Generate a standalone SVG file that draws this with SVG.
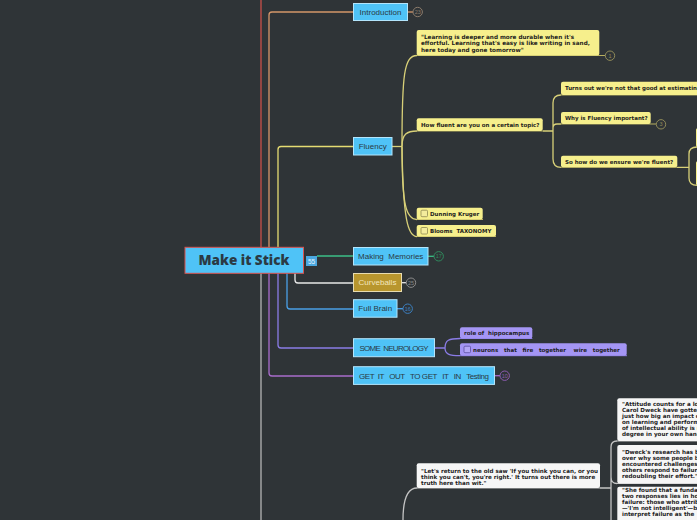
<svg xmlns="http://www.w3.org/2000/svg" width="697" height="520" viewBox="0 0 697 520">
<defs>
<style>
.bt{font-family:"Liberation Sans",Arial,sans-serif;font-size:8px;fill:#2b3a44;text-anchor:middle}
.blue{fill:#4fc3f7;stroke:#b3e5fc;stroke-width:1}
.yel{fill:#f6ef8c}
.pur{fill:#a495f4}
.wht{fill:#f6f6f6}
.nt{font-family:"DejaVu Sans",Verdana,sans-serif;font-weight:bold;font-size:5.5px;fill:#1d1d1d}
.mt{font-family:"DejaVu Sans",Verdana,sans-serif;font-weight:bold;font-size:5.6px;fill:#1d1d1d}
.qt{font-family:"DejaVu Sans",Verdana,sans-serif;font-weight:bold;font-size:5.7px;fill:#1d1d1d}
.cb{fill:#f3ec9c;stroke:#8d8850;stroke-width:0.8}
.cbp{fill:#b3a6f6;stroke:#5a4ea0;stroke-width:0.8}
.bd{fill:#2f3437;stroke-width:1}
.bn{font-family:"Liberation Sans",Arial,sans-serif;font-size:5.5px;text-anchor:middle}
.c{fill:none;stroke-width:1.3}
.ul{fill:none;stroke-width:1}
</style>
</defs>
<rect width="697" height="520" fill="#2f3437"/>
<g id="connectors">
<path class="c" stroke="#c9504a" d="M261,0 V247"/>
<path class="c" stroke="#b5b5b5" d="M261,273 V520"/>
<path class="c" stroke="#d4966a" d="M269,247 V15 Q269,12 272,12 H353"/>
<path class="c" stroke="#e5dc72" d="M278,247 V149.5 Q278,146.5 281,146.5 H353"/>
<path class="c" stroke="#3cbf88" d="M317,256 H353"/>
<path class="c" stroke="#e8e8e8" d="M295,273 V280 Q295,283 298,283 H353"/>
<path class="c" stroke="#4a9fe6" d="M287,273 V306 Q287,309 290,309 H353"/>
<path class="c" stroke="#8a7ce6" d="M278,273 V345 Q278,348 281,348 H353"/>
<path class="c" stroke="#a96ccc" d="M269,273 V373 Q269,376 272,376 H353"/>
<g stroke="#d8d078">
<path class="c" d="M392,146.5 H402"/>
<path class="c" d="M402,146.5 C402,75 404,55.5 417,55.5"/>
<path class="c" d="M402,146.5 C402,134 407,131 417,131"/>
<path class="c" d="M402,146.5 C402,205 406,219.5 417,219.5"/>
<path class="c" d="M402,146.5 C403,220 408,236.5 417,236.5"/>
<path class="c" d="M543,131 H553 M561,95 Q553,95 553,103 V159 Q553,167.3 561,167.3 M553,131 V128 Q553,124 557,124 H561"/>
<path class="c" d="M677,167.3 H689 M697,147 Q689,147 689,154 V178 Q689,185.3 697,185.3"/>
</g>
<g stroke="#b8b060">
<path class="ul" d="M417,55.5 H605 M417,131 H543 M561,95 H697 M561,124 H656 M561,167.3 H677 M417,219.5 H483 M417,236.5 H496"/>
</g>
<g stroke="#8a7ce6">
<path class="c" d="M434.5,348 H445 M445,348 C445,340 449,338.5 460,338.5 M445,348 C445,354 449,355.7 460,355.7"/>
<path class="ul" d="M460,338.5 H532.3 M460,355.7 H627"/>
</g>
<g stroke="#c4c4c4">
<path class="c" d="M417,488 C407,488 403,500 403,520"/>
<path class="c" d="M600,488 H611 M617,441 Q611,441 611,447 V520 M611,477 Q611,483.5 617,483.5"/>
<path class="ul" d="M417,488 H600 M617,441 H697 M617,483.5 H697"/>
</g>
<g>
<path class="c" stroke="#d4966a" d="M407.5,12 H413"/>
<path class="c" stroke="#3cbf88" d="M428,256.3 H434"/>
<path class="c" stroke="#e8e8e8" d="M401.5,282.7 H406.3"/>
<path class="c" stroke="#4a9fe6" d="M397,308.7 H403"/>
<path class="c" stroke="#a96ccc" d="M494.5,375.7 H500"/>
</g>
</g>
<g id="root">
<rect x="185" y="247.3" width="118.5" height="26" fill="#4fc3f7" stroke="#d9534f" stroke-width="1"/>
<text x="244" y="265" font-family="'Open Sans','Liberation Sans',sans-serif" font-weight="800" font-size="13.5" fill="#2b3a44" text-anchor="middle">Make it Stick</text>
<rect x="306" y="256" width="11" height="10" fill="#4aa8e0"/>
<text x="311.5" y="263.5" font-family="'Liberation Sans',sans-serif" font-size="6.5" fill="#e8f4fc" text-anchor="middle">55</text>
</g>
<g id="introduction">
<rect class="blue" x="353.5" y="3.5" width="54" height="17"/>
<text class="bt" x="380.5" y="14.8">Introduction</text>
<circle class="bd" cx="417.7" cy="12" r="4.7" stroke="#8c7c6c"/>
<text class="bn" x="417.7" y="14" fill="#8c7c6c">23</text>
</g>
<g id="fluency">
<rect class="blue" x="353.5" y="137.5" width="38.5" height="17.5"/>
<text class="bt" x="372.7" y="149.2">Fluency</text>
</g>
<g id="quote-learning">
<rect class="yel" x="416.7" y="30" width="182.6" height="25.5" rx="2"/>
<text class="qt" x="421" y="38.5">"Learning is deeper and more durable when it's</text>
<text class="qt" x="421" y="45">effortful. Learning that's easy is like writing in sand,</text>
<text class="qt" x="421" y="51.5">here today and gone tomorrow"</text>
<circle class="bd" cx="610" cy="55.7" r="4.7" stroke="#8f8a58"/>
<text class="bn" x="610" y="57.7" fill="#8f8a58">1</text>
</g>
<g id="how-fluent">
<rect class="yel" x="416.7" y="118.3" width="126" height="12.7" rx="2"/>
<text class="nt" x="421" y="126.8">How fluent are you on a certain topic?</text>
</g>
<g id="turns-out">
<rect class="yel" x="561" y="81.7" width="150" height="13.3" rx="2"/>
<text class="nt" x="565" y="90.2">Turns out we're not that good at estimating</text>
</g>
<g id="why-fluency">
<rect class="yel" x="561" y="112" width="89.7" height="12" rx="2"/>
<text class="nt" x="565" y="120.3">Why is Fluency important?</text>
<circle class="bd" cx="661" cy="124.3" r="4.7" stroke="#8f8a58"/>
<text class="bn" x="661" y="126.3" fill="#8f8a58">3</text>
</g>
<g id="so-how">
<rect class="yel" x="561" y="155.7" width="116.3" height="11.6" rx="2"/>
<text class="nt" x="565" y="164">So how do we ensure we're fluent?</text>
</g>
<g id="so-how-child-1"><rect class="yel" x="696" y="128" width="10" height="19" rx="2"/></g>
<g id="so-how-child-2"><rect class="yel" x="696" y="161" width="10" height="24.3" rx="2"/></g>
<g id="dunning-kruger">
<rect class="yel" x="416.7" y="207.7" width="66" height="11.8" rx="2"/>
<rect class="cb" x="421" y="210.2" width="6.5" height="6.5" rx="1"/>
<text class="nt" x="430" y="216">Dunning Kruger</text>
</g>
<g id="blooms">
<rect class="yel" x="416.7" y="225" width="79.3" height="11.5" rx="2"/>
<rect class="cb" x="421" y="227.5" width="6.5" height="6.5" rx="1"/>
<text class="nt" x="430" y="233.2" xml:space="preserve">Blooms  TAXONOMY</text>
</g>
<g id="making-memories">
<rect class="blue" x="353.5" y="247.5" width="74.5" height="17.5"/>
<text class="bt" x="390.7" y="259.2" xml:space="preserve">Making  Memories</text>
<circle class="bd" cx="438.7" cy="256.3" r="4.7" stroke="#2f8a5e"/>
<text class="bn" x="438.7" y="258.3" fill="#2f8a5e">17</text>
</g>
<g id="curveballs">
<rect x="353.5" y="273.5" width="48" height="18" fill="#b8962e" stroke="#e8dcb0" stroke-width="1"/>
<text class="bt" x="377.5" y="285.4" style="fill:#f3e6bd">Curveballs</text>
<circle class="bd" cx="411" cy="282.7" r="4.7" stroke="#8a8a8a"/>
<text class="bn" x="411" y="284.7" fill="#8a8a8a">25</text>
</g>
<g id="full-brain">
<rect class="blue" x="353.5" y="299.7" width="43.5" height="17.5"/>
<text class="bt" x="375.2" y="311.4">Full Brain</text>
<circle class="bd" cx="407.7" cy="308.7" r="4.7" stroke="#3c7fc0"/>
<text class="bn" x="407.7" y="310.7" fill="#3c7fc0">16</text>
</g>
<g id="some-neurology">
<rect class="blue" x="353.5" y="338.7" width="81" height="18"/>
<text class="bt" x="394" y="350.6" textLength="69" lengthAdjust="spacing" xml:space="preserve">SOME  NEUROLOGY</text>
</g>
<g id="hippocampus">
<rect class="pur" x="460" y="327.3" width="72.3" height="11.2" rx="2"/>
<text class="nt" x="464" y="335" xml:space="preserve">role of  hippocampus</text>
</g>
<g id="neurons">
<rect class="pur" x="460" y="343.3" width="166.7" height="12.4" rx="2"/>
<rect class="cbp" x="464" y="346.2" width="6.5" height="6.5" rx="1"/>
<text class="nt" x="473" y="351.7" xml:space="preserve">neurons   that   fire   together    wire   together</text>
</g>
<g id="get-it-out">
<rect class="blue" x="353.5" y="366.7" width="141" height="17.7"/>
<text class="bt" x="424" y="378.6" textLength="130" lengthAdjust="spacing" xml:space="preserve">GET  IT   OUT   TO GET   IT   IN   Testing</text>
<circle class="bd" cx="504.7" cy="375.7" r="4.7" stroke="#8d5cb0"/>
<text class="bn" x="504.7" y="377.7" fill="#8d5cb0">10</text>
</g>
<g id="lets-return">
<rect class="wht" x="416.7" y="463.3" width="183.3" height="24.7" rx="2"/>
<text class="mt" x="421" y="472.5">"Let's return to the old saw 'If you think you can, or you</text>
<text class="mt" x="421" y="478.5">think you can't, you're right.' It turns out there is more</text>
<text class="mt" x="421" y="484.5">truth here than wit."</text>
</g>
<g id="attitude">
<rect class="wht" x="617.3" y="398.3" width="100" height="42.7" rx="2"/>
<text class="mt" x="622" y="405.5">"Attitude counts for a lot.</text>
<text class="mt" x="622" y="411.5">Carol Dweck have gotten</text>
<text class="mt" x="622" y="417.5">just how big an impact can</text>
<text class="mt" x="622" y="423.5">on learning and performance</text>
<text class="mt" x="622" y="429.5">of intellectual ability is not</text>
<text class="mt" x="622" y="435.5">degree in your own hands</text>
</g>
<g id="dweck">
<rect class="wht" x="617.3" y="445" width="100" height="38.5" rx="2"/>
<text class="mt" x="622" y="453.5">"Dweck's research has been</text>
<text class="mt" x="622" y="459.5">over why some people bounce</text>
<text class="mt" x="622" y="465.5">encountered challenges and</text>
<text class="mt" x="622" y="471.5">others respond to failure by</text>
<text class="mt" x="622" y="477.5">redoubling their effort."</text>
</g>
<g id="she-found">
<rect class="wht" x="617.3" y="486.7" width="100" height="40" rx="2"/>
<text class="mt" x="622" y="491.5">"She found that a fundamental</text>
<text class="mt" x="622" y="497.5">two responses lies in how</text>
<text class="mt" x="622" y="503.5">failure: those who attribute</text>
<text class="mt" x="622" y="509.5">—'I'm not intelligent'—become</text>
<text class="mt" x="622" y="515.5">interpret failure as the</text>
</g>
</svg>
